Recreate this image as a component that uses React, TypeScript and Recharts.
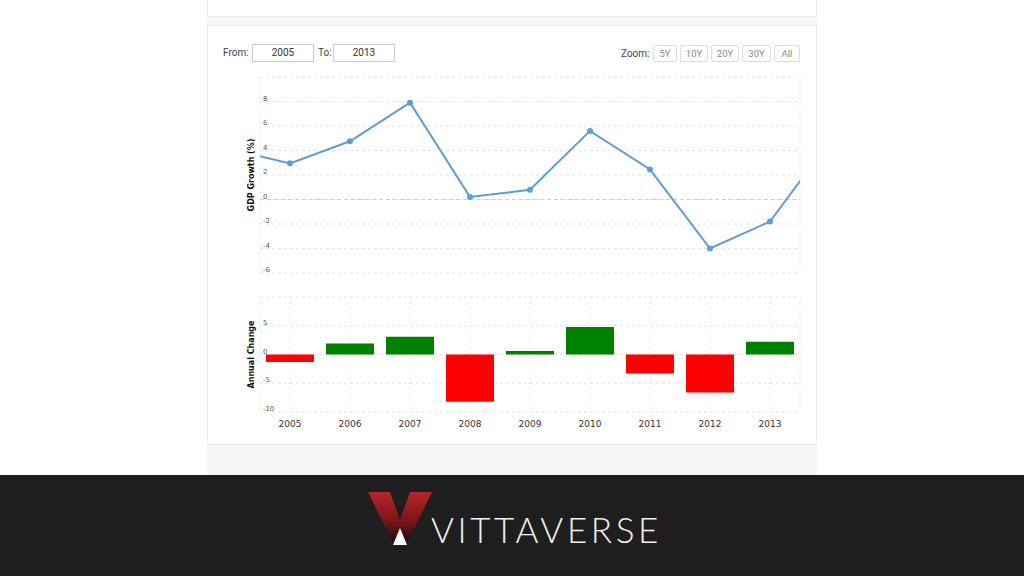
import React from 'react';
import {
  LineChart, Line, BarChart, Bar, Cell, XAxis, YAxis, CartesianGrid, ReferenceLine,
} from 'recharts';

// GDP growth (%) per year; 2004 and 2014 only feed the clipped line ends
const years = [2004, 2005, 2006, 2007, 2008, 2009, 2010, 2011, 2012, 2013, 2014];
const gdpGrowth = [4.1, 2.95, 4.75, 7.9, 0.2, 0.8, 5.6, 2.45, -4.0, -1.8, 4.8];

// annual change bars
const changeYears = [2005, 2006, 2007, 2008, 2009, 2010, 2011, 2012, 2013];
const annualChange = [-1.3, 1.9, 3.1, -8.2, 0.6, 4.8, -3.3, -6.6, 2.2];

const gdpTicks = [-6, -4, -2, 0, 2, 4, 6, 8, 10];
const changeTicks = [-10, -5, 0, 5, 10];
const zoomButtons = ['5Y', '10Y', '20Y', '30Y', 'All'];

const lineData = years.map((y, i) => ({ year: y, gdp: gdpGrowth[i] }));
const barData = changeYears.map((y, i) => ({ year: y, change: annualChange[i] }));

const X_DOMAIN: [number, number] = [2004.5, 2013.5];
const LINE_COLOR = '#5e9cd3';
const TICK_FONT = '"DejaVu Sans", Verdana, sans-serif';

const yTick = (top: number) => (props: any) => {
  const { y, payload } = props;
  if (payload.value === top) return <g />;
  return (
    <text x={23} y={y - 1} fontSize={6.8} fill="#555" fontFamily={TICK_FONT}>
      {payload.value}
    </text>
  );
};

const xTick = (props: any) => {
  const { x, y, payload } = props;
  return (
    <text x={x} y={y + 14.5} textAnchor="middle" fontSize={9} fill="#333" fontFamily={TICK_FONT}>
      {payload.value}
    </text>
  );
};

const axisTitle = (value: string) => ({
  value,
  angle: -90,
  position: 'insideLeft' as const,
  offset: 11,
  style: { textAnchor: 'middle', fontSize: 8, fontWeight: 700, fill: '#111', fontFamily: TICK_FONT },
});

const boxStyle: React.CSSProperties = {
  position: 'absolute',
  border: '1px solid #ccc',
  boxSizing: 'border-box',
  fontSize: 10,
  color: '#333',
  textAlign: 'center',
  lineHeight: '16px',
  background: '#fff',
};

export default function App() {
  const btnLefts = [653, 680, 711, 742, 774];
  const btnWidths = [24, 28, 28, 29, 26];
  return (
    <div style={{
      position: 'fixed', left: 0, top: 0, width: 1024, height: 576, background: '#fff',
      overflow: 'hidden', fontFamily: 'Roboto, sans-serif',
    }}>
      {/* page column */}
      <div style={{ position: 'absolute', left: 207, top: 0, width: 610, height: 475, background: '#f6f6f6' }} />
      <div style={{ position: 'absolute', left: 207, top: -10, width: 610, height: 27, background: '#fff', border: '1px solid #ececec', boxSizing: 'border-box' }} />
      <div style={{ position: 'absolute', left: 207, top: 25, width: 610, height: 420, background: '#fff', border: '1px solid #ececec', boxSizing: 'border-box' }} />

      {/* range controls */}
      <div style={{ position: 'absolute', left: 223, top: 47, fontSize: 10, color: '#444' }}>From:</div>
      <div style={{ ...boxStyle, left: 252, top: 44, width: 62, height: 18 }}>2005</div>
      <div style={{ position: 'absolute', left: 318, top: 47, fontSize: 10, color: '#444' }}>To:</div>
      <div style={{ ...boxStyle, left: 333, top: 44, width: 62, height: 18 }}>2013</div>
      <div style={{ position: 'absolute', left: 621, top: 48, fontSize: 10, color: '#444' }}>Zoom:</div>
      {zoomButtons.map((b, i) => (
        <div key={b} style={{
          ...boxStyle, left: btnLefts[i], top: 45, width: btnWidths[i], height: 17,
          border: '1px solid #ddd', borderRadius: 2, color: '#888', fontSize: 9.5,
        }}>{b}</div>
      ))}

      {/* GDP growth line */}
      <div style={{ position: 'absolute', left: 240, top: 70 }}>
        <LineChart width={570} height={210} data={lineData} margin={{ top: 7, right: 10, bottom: 7, left: 0 }}>
          <CartesianGrid horizontal={false} stroke="#e6e6e6" strokeDasharray="2 3" />
          <CartesianGrid vertical={false} stroke="#e3e3e3" strokeDasharray="3 3" />
          <XAxis
            dataKey="year" type="number" domain={X_DOMAIN} allowDataOverflow
            ticks={changeYears} height={0} tick={false} axisLine={false} tickLine={false}
          />
          <YAxis
            domain={[-6, 10]} ticks={gdpTicks} interval={0} width={20} axisLine={false} tickLine={false}
            tick={yTick(10)} label={axisTitle('GDP Growth (%)')}
          />
          <ReferenceLine y={0} stroke="#cfcfcf" strokeDasharray="4 3" />
          <Line
            type="linear" dataKey="gdp" stroke={LINE_COLOR} strokeWidth={2}
            dot={{ r: 3, fill: LINE_COLOR, stroke: LINE_COLOR, strokeWidth: 0 }}
            isAnimationActive={false}
          />
        </LineChart>
      </div>

      {/* annual change bars */}
      <div style={{ position: 'absolute', left: 240, top: 290 }}>
        <BarChart width={570} height={142} data={barData} margin={{ top: 7, right: 10, bottom: 0, left: 0 }}>
          <CartesianGrid horizontal={false} stroke="#e6e6e6" strokeDasharray="2 3" />
          <CartesianGrid vertical={false} stroke="#e3e3e3" strokeDasharray="3 3" />
          <XAxis
            dataKey="year" type="number" domain={X_DOMAIN} allowDataOverflow ticks={changeYears} interval={0}
            height={20} axisLine={false} tickLine={false} tickSize={0} tickMargin={0} tick={xTick}
          />
          <YAxis
            domain={[-10, 10]} ticks={changeTicks} interval={0} width={20} axisLine={false} tickLine={false}
            tick={yTick(10)} label={axisTitle('Annual Change')}
          />
          <Bar dataKey="change" barSize={48} isAnimationActive={false}>
            {barData.map((d) => (
              <Cell key={d.year} fill={d.change >= 0 ? '#008000' : '#ff0000'} />
            ))}
          </Bar>
        </BarChart>
      </div>

      {/* footer band with logo */}
      <div style={{ position: 'absolute', left: 0, top: 475, width: 1024, height: 101, background: '#1e1e1e' }} />
      <svg style={{ position: 'absolute', left: 0, top: 0 }} width={1024} height={576}>
        <defs>
          <linearGradient id="vgrad" x1="0" y1="0" x2="0" y2="1">
            <stop offset="0" stopColor="#b8262b" />
            <stop offset="0.55" stopColor="#7a1518" />
            <stop offset="1" stopColor="#0e0e0e" />
          </linearGradient>
        </defs>
        <polygon points="368,492 390,492 401,523 394,545" fill="url(#vgrad)" />
        <polygon points="432,492 410,492 399,523 406,545" fill="url(#vgrad)" />
        <polygon points="400,528 393,545 407,545" fill="#fff" />
      </svg>
      <div style={{
        position: 'absolute', left: 431, top: 507, fontFamily: 'Lato, sans-serif', fontWeight: 300,
        fontSize: 35, color: '#f2f2f2', letterSpacing: 3.6, lineHeight: '44px',
      }}>VITTAVERSE</div>
    </div>
  );
}
